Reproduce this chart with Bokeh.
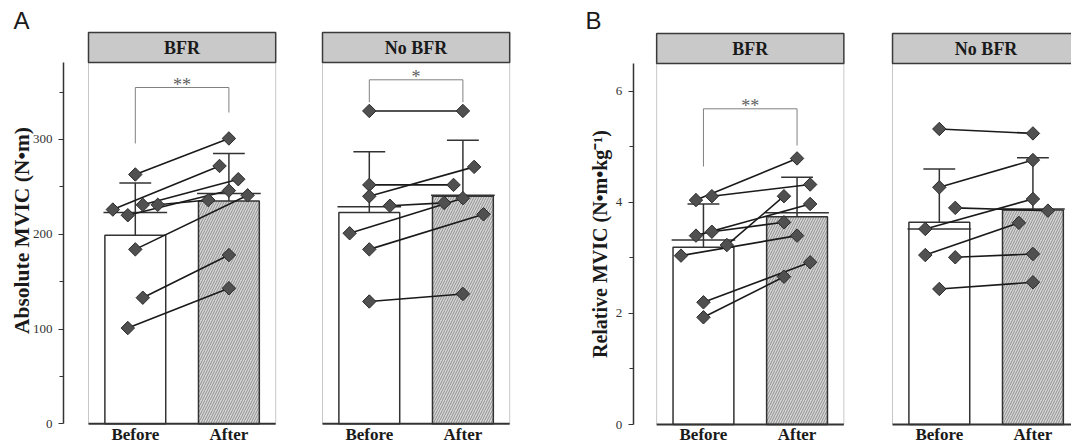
import math
from bokeh.plotting import figure
from bokeh.models import Range1d, LinearAxis, FixedTicker, Label, CustomJSTickFormatter
from bokeh.core.properties import value
from bokeh.embed import file_html
from bokeh.resources import INLINE

# ---------------- data ----------------
conditions = ["BFR", "No BFR"]
timepoints = ["Before", "After"]
panel_letters = ["A", "B"]
y_titles = ["Absolute MVIC (N•m)", "Relative MVIC (N•m•kg⁻¹)"]

# Panel A: absolute MVIC (N·m), paired subjects
abs_bfr_before = [263, 226, 220, 231, 231, 184, 133, 101]
abs_bfr_after = [301, 272, 246, 258, 236, 241, 178, 143]
abs_nobfr_before = [330, 252, 240, 230, 201, 184, 129]
abs_nobfr_after = [330, 252, 271, 233, 238, 221, 137]
abs_bfr_mean = [199, 235]
abs_bfr_sd = [55, 50]
abs_bfr_ref = [223, 243]
abs_nobfr_mean = [223, 240]
abs_nobfr_sd = [64, 59]
abs_nobfr_ref = [229, 241]

# Panel B: relative MVIC (N·m·kg-1)
rel_bfr_before = [4.04, 4.11, 3.40, 3.47, 3.23, 3.04, 2.20, 1.93]
rel_bfr_after = [4.79, 4.32, 3.97, 3.64, 4.11, 3.40, 2.92, 2.66]
rel_nobfr_before = [5.32, 4.27, 3.90, 3.52, 3.05, 3.01, 2.44]
rel_nobfr_after = [5.24, 4.76, 3.85, 4.06, 3.63, 3.07, 2.56]
rel_bfr_mean = [3.19, 3.74]
rel_bfr_sd = [0.78, 0.71]
rel_bfr_ref = [3.32, 3.81]
rel_nobfr_mean = [3.64, 3.86]
rel_nobfr_sd = [0.96, 0.94]
rel_nobfr_ref = [3.52, 3.88]

abs_ticks = [0, 100, 200, 300]
abs_minor_ticks = [50, 150, 250, 350]
rel_ticks = [0, 2, 4, 6]
rel_minor_ticks = [1, 3, 5]
sig_marks = ["**", "*", "**", ""]

# ---------------- layout (positions / styles only) ----------------
W, H = 1071, 447
PX = 93.6          # pixels per category unit
REF_X0 = 88.0      # pixel of x = 0
A_ZERO, A_PX = 423.3, 0.948
B_ZERO, B_PX = 424.0, 55.55


def xr(px):
    return (px - REF_X0) / PX


def ya(px):
    return (A_ZERO - px) / A_PX


def yb(px):
    return (B_ZERO - px) / B_PX


jit_abs_bfr_before = [0, -0.24, -0.08, 0.08, 0.24, 0, 0.08, -0.08]
jit_abs_bfr_after = [0, -0.10, 0, 0.10, -0.22, 0.20, 0, 0]
jit_abs_nobfr_before = [0, 0, 0, 0.22, -0.21, 0, 0]
jit_abs_nobfr_after = [0, -0.10, 0.12, -0.20, 0, 0.22, 0]
jit_rel_bfr_before = [-0.08, 0.09, -0.08, 0.09, 0.25, -0.24, 0, 0]
jit_rel_bfr_after = [0, 0.14, 0.14, -0.14, -0.14, 0, 0.14, -0.14]
jit_rel_nobfr_before = [0, 0, 0.17, -0.15, -0.15, 0.17, 0]
jit_rel_nobfr_after = [0, 0, 0.16, 0, -0.15, 0, 0]

panels = [
    dict(origin=0.0, yname="default", yf=ya, hdr=(32, 62), title=conditions[0],
         before=abs_bfr_before, after=abs_bfr_after, jb=jit_abs_bfr_before, ja=jit_abs_bfr_after,
         mean=abs_bfr_mean, sd=abs_bfr_sd, ref=abs_bfr_ref, sig=sig_marks[0],
         br=(143, 112, 87)),
    dict(origin=2.5, yname="default", yf=ya, hdr=(32, 62), title=conditions[1],
         before=abs_nobfr_before, after=abs_nobfr_after, jb=jit_abs_nobfr_before, ja=jit_abs_nobfr_after,
         mean=abs_nobfr_mean, sd=abs_nobfr_sd, ref=abs_nobfr_ref, sig=sig_marks[1],
         br=(101.7, 101.7, 79.3)),
    dict(origin=6.07, yname="rel", yf=yb, hdr=(33, 63), title=conditions[0],
         before=rel_bfr_before, after=rel_bfr_after, jb=jit_rel_bfr_before, ja=jit_rel_bfr_after,
         mean=rel_bfr_mean, sd=rel_bfr_sd, ref=rel_bfr_ref, sig=sig_marks[2],
         br=(166, 145, 108.3)),
    dict(origin=8.59, yname="rel", yf=yb, hdr=(33, 63), title=conditions[1],
         before=rel_nobfr_before, after=rel_nobfr_after, jb=jit_rel_nobfr_before, ja=jit_rel_nobfr_after,
         mean=rel_nobfr_mean, sd=rel_nobfr_sd, ref=rel_nobfr_ref, sig=sig_marks[3],
         br=None),
]

DARK = "#333333"
SERIF = "Liberation Serif"

p = figure(width=W, height=H,
           x_range=Range1d(xr(0), xr(W)),
           y_range=Range1d(ya(H), ya(0)),
           x_axis_type=None, y_axis_type=None,
           output_backend="svg", toolbar_location=None, min_border=0)
p.extra_y_ranges = {"rel": Range1d(yb(H), yb(0))}
p.outline_line_color = None
p.background_fill_color = "white"
p.border_fill_color = "white"

BAR_W = 0.65
HALF_REF = 0.34
CAP = 0.17

for P in panels:
    o = P["origin"]
    yn = P["yname"]
    f = P["yf"]
    hb, ht = f(P["hdr"][1]), f(P["hdr"][0])
    xb, xa = o + 0.5, o + 1.5

    # panel frame sides
    p.segment(x0=[o, o + 2], y0=[0, 0], x1=[o, o + 2], y1=[hb, hb],
              line_color="#c8c8c8", line_width=1, y_range_name=yn)
    # header strip
    p.quad(left=[o], right=[o + 2], bottom=[hb], top=[ht], fill_color="#c9c9c9",
           line_color="#3a3a3a", line_width=1.5, y_range_name=yn)
    p.text(x=[o + 1], y=[(hb + ht) / 2], text=[P["title"]], text_align="center",
           text_baseline="middle", text_font=value(SERIF), text_font_style="bold",
           text_font_size="18px", text_color="#1a1a1a", y_range_name=yn)

    # bars
    p.vbar(x=[xb], top=[P["mean"][0]], bottom=0, width=BAR_W, fill_color="white",
           line_color=DARK, line_width=1.5, y_range_name=yn)
    p.vbar(x=[xa], top=[P["mean"][1]], bottom=0, width=BAR_W, fill_color="#d6d6d6",
           hatch_pattern="/", hatch_color="#7c7c7c", hatch_scale=5, hatch_weight=0.8,
           line_color=DARK, line_width=1.5, y_range_name=yn)
    # baseline
    p.segment(x0=[o], y0=[0], x1=[o + 2], y1=[0], line_color=DARK, line_width=2,
              y_range_name=yn)
    # reference lines
    p.segment(x0=[xb - HALF_REF, xa - HALF_REF], y0=P["ref"],
              x1=[xb + HALF_REF, xa + HALF_REF], y1=P["ref"],
              line_color=DARK, line_width=1.5, y_range_name=yn)
    # error bars
    tops = [m + s for m, s in zip(P["mean"], P["sd"])]
    p.segment(x0=[xb, xa], y0=P["mean"], x1=[xb, xa], y1=tops,
              line_color=DARK, line_width=1.5, y_range_name=yn)
    p.segment(x0=[xb - CAP, xa - CAP], y0=tops, x1=[xb + CAP, xa + CAP], y1=tops,
              line_color=DARK, line_width=1.5, y_range_name=yn)

    # paired lines
    bx = [xb + j for j in P["jb"]]
    ax = [xa + j for j in P["ja"]]
    p.segment(x0=bx, y0=P["before"], x1=ax, y1=P["after"], line_color="#1a1a1a",
              line_width=1.6, y_range_name=yn)
    p.scatter(x=bx + ax, y=P["before"] + P["after"], marker="square", angle=math.pi / 4,
              size=9.5, fill_color="#505050", line_color="#2b2b2b", line_width=1,
              y_range_name=yn)

    # significance bracket
    if P["br"] is not None:
        yl, yr, yt = f(P["br"][0]), f(P["br"][1]), f(P["br"][2])
        p.line(x=[xb, xb, xa, xa], y=[yl, yt, yt, yr], line_color="#808080",
               line_width=1, y_range_name=yn)
        p.text(x=[o + 1], y=[yt], text=[P["sig"]], text_align="center",
               text_baseline="alphabetic", y_offset=-3, text_font=value(SERIF),
               text_font_size="18px", text_color="#606060", y_range_name=yn)


# y axes (A and B)
def style_yaxis(ax, label_size):
    ax.axis_line_color = DARK
    ax.axis_line_width = 1.5
    ax.major_tick_line_color = DARK
    ax.minor_tick_line_color = DARK
    ax.major_tick_line_width = 1.2
    ax.minor_tick_line_width = 1.2
    ax.major_tick_in = 0
    ax.major_tick_out = 5
    ax.minor_tick_in = 0
    ax.minor_tick_out = 4
    ax.major_label_standoff = 6
    ax.major_label_text_font = SERIF
    ax.major_label_text_font_size = "13px"
    ax.major_label_text_color = "#333333"
    ax.axis_label_text_font = SERIF
    ax.axis_label_text_font_style = "bold"
    ax.axis_label_text_font_size = label_size
    ax.axis_label_text_color = "#1a1a1a"
    ax.axis_label_standoff = 2


yax_a = LinearAxis(fixed_location=xr(63), bounds=(0, ya(62)),
                   ticker=FixedTicker(ticks=abs_ticks, minor_ticks=abs_minor_ticks))
style_yaxis(yax_a, "21.5px")
p.add_layout(yax_a, "left")

# title-only axis for A so the title is centred where the reference has it
yax_a_title = LinearAxis(fixed_location=xr(63), bounds=(0, ya(230) * 2),
                         ticker=FixedTicker(ticks=[], minor_ticks=[]),
                         axis_label=y_titles[0])
yax_a_title.axis_line_color = None
yax_a_title.major_tick_out = 0
yax_a_title.minor_tick_out = 0
yax_a_title.major_label_standoff = 0
yax_a_title.axis_label_text_font = SERIF
yax_a_title.axis_label_text_font_style = "bold"
yax_a_title.axis_label_text_font_size = "21.5px"
yax_a_title.axis_label_text_color = "#1a1a1a"
yax_a_title.axis_label_standoff = 30
p.add_layout(yax_a_title, "left")

yax_b = LinearAxis(y_range_name="rel", fixed_location=xr(632.7), bounds=(0, yb(63)),
                   ticker=FixedTicker(ticks=rel_ticks, minor_ticks=rel_minor_ticks),
                   axis_label=y_titles[1])
style_yaxis(yax_b, "20px")
p.add_layout(yax_b, "left")

# x axis with category labels
centers = []
for P in panels:
    centers += [P["origin"] + 0.5, P["origin"] + 1.5]
xax = LinearAxis(fixed_location=0, ticker=FixedTicker(ticks=centers, minor_ticks=[]),
                 formatter=CustomJSTickFormatter(args=dict(labels=timepoints),
                                                 code="return labels[index % 2];"))
xax.axis_line_color = None
xax.major_tick_line_color = None
xax.minor_tick_line_color = None
xax.major_tick_out = 0
xax.major_label_standoff = 1
xax.major_label_text_font = SERIF
xax.major_label_text_font_style = "bold"
xax.major_label_text_font_size = "17px"
xax.major_label_text_color = "#1a1a1a"
p.add_layout(xax, "below")

# panel letters
for letter, rx in zip(panel_letters, [13, 585]):
    p.add_layout(Label(x=xr(rx), y=ya(20), text=letter, text_font="Liberation Sans",
                       text_font_size="24px", text_color="#1a1a1a",
                       text_baseline="alphabetic"))

open("out.html", "w").write(file_html(p, INLINE))
